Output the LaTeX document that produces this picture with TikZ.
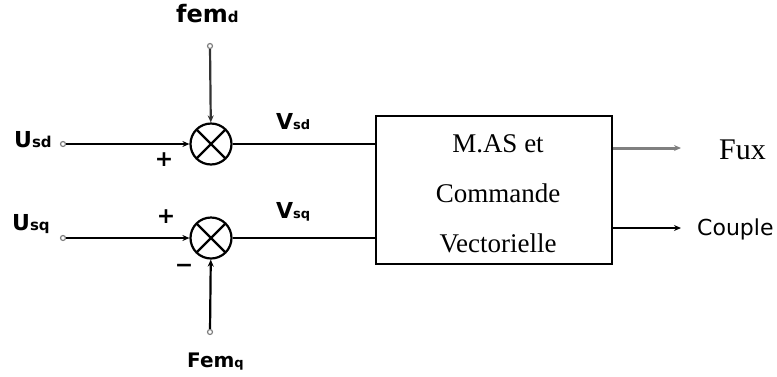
\documentclass[tikz,border=0pt]{standalone}
\usepackage{fontspec}
\setmainfont{Liberation Serif}
\newfontfamily\labfont{DejaVu Sans}
\usetikzlibrary{arrows.meta}
\begin{document}
\begin{tikzpicture}[x=1pt,y=-1pt,
  wire/.style={line width=2.2pt},
  arr/.style={wire,-{Stealth[length=7pt,width=6pt]}},
  term/.style={circle,draw=gray,line width=1.2pt,fill=white,minimum size=5pt,inner sep=0pt},
  sumnode/.style={circle,draw,line width=2.2pt,minimum size=41pt,inner sep=0pt,
    path picture={\draw[line width=2.2pt] (path picture bounding box.north west)--(path picture bounding box.south east)
      (path picture bounding box.north east)--(path picture bounding box.south west);}},
  lab/.style={font=\labfont\bfseries\fontsize{22}{24}\selectfont,inner sep=0pt},
  sgn/.style={font=\labfont\bfseries\fontsize{22}{22}\selectfont,inner sep=0pt},
  blocktext/.style={font=\fontsize{27}{27}\selectfont,inner sep=0pt}]
\useasboundingbox (0,0) rectangle (777,376);
% summing junctions
\node[sumnode] (s1) at (211,144) {};
\node[sumnode] (s2) at (211,238) {};
% terminals
\node[term] (usd) at (63,144) {};
\node[term] (usq) at (63,238) {};
\node[term] (femd) at (210,46) {};
\node[term] (femq) at (210,332) {};
% block
\node[draw,line width=2.2pt,minimum width=236pt,minimum height=148pt,inner sep=0pt] (mas) at (494,190) {};
\node[blocktext,anchor=base] (t1) at (498,152) {M.AS et};
\node[blocktext,anchor=base] (t2) at (498,202) {Commande};
\node[blocktext,anchor=base] (t3) at (498,252) {Vectorielle};
% labels
\node[lab,anchor=base west] (lusd) at (14,147) {U{\fontsize{15}{15}\selectfont sd}};
\node[lab,anchor=base west] (lusq) at (12,230) {U{\fontsize{15}{15}\selectfont sq}};
\node[lab,font=\labfont\bfseries\fontsize{24}{24}\selectfont,anchor=base west] (lfemd) at (176,22) {fem{\fontsize{15}{15}\selectfont d}};
\node[lab,font=\labfont\bfseries\fontsize{20}{20}\selectfont,anchor=base west] (lfemq) at (187,367) {Fem{\fontsize{13}{13}\selectfont q}};
\node[lab,anchor=base west] (lvsd) at (276,129) {V{\fontsize{13}{13}\selectfont sd}};
\node[lab,anchor=base west] (lvsq) at (276,218) {V{\fontsize{13}{13}\selectfont sq}};
\node[sgn] (p1) at (164,160) {+};
\node[sgn] (p2) at (166,217) {+};
\node[sgn] (m2) at (184,268) {\textminus};
\node[font=\fontsize{30}{30}\selectfont,inner sep=0pt,anchor=base west] (flux) at (719,159) {Fux};
\node[lab,font=\labfont\fontsize{22}{22}\selectfont,anchor=base west] (couple) at (697,235) {Couple};
% output coordinates
\coordinate (fo) at (681,148);
\coordinate (co) at (681,228);
% connectors
\draw[arr] (usd) -- (s1);
\draw[arr] (usq) -- (s2);
\draw[arr,draw=black!80] (femd) -- (s1);
\draw[arr] (femq) -- (s2);
\draw[wire] (s1) -- (s1 -| mas.west);
\draw[wire] (s2) -- (s2 -| mas.west);
\draw[wire,line width=3pt,draw=gray,-{Stealth[length=7pt,width=6pt]}] (mas.east |- fo) -- (fo);
\draw[arr] (mas.east |- co) -- (co);
\end{tikzpicture}
\end{document}
